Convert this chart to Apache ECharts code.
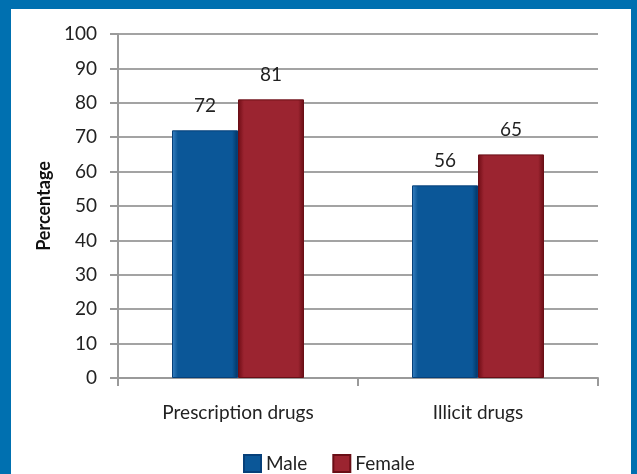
<!DOCTYPE html>
<html>
<head>
<meta charset="utf-8">
<script src="https://cdn.jsdelivr.net/npm/echarts@6/dist/echarts.min.js"></script>
<style>
  html, body { margin: 0; padding: 0; }
  #frame { position: relative; width: 637px; height: 474px; background: #0070b0; overflow: hidden; }
  #chart { position: absolute; left: 11px; top: 9px; width: 620px; height: 465px; background: #ffffff; }
</style>
</head>
<body>
<div id="frame"><div id="chart"></div></div>
<script>
const categories = ['Prescription drugs', 'Illicit drugs'];
const maleValues = [72, 56];
const femaleValues = [81, 65];
const yTicks = { min: 0, max: 100, interval: 10 };

const FONT = 'Lato, "Open Sans", sans-serif';

// horizontal gradient giving the bars a bevelled look
function bevel(light, mid, dark) {
  return new echarts.graphic.LinearGradient(0, 0, 1, 0, [
    { offset: 0, color: light },
    { offset: 0.09, color: mid },
    { offset: 0.91, color: mid },
    { offset: 1, color: dark }
  ]);
}

const chart = echarts.init(document.getElementById('chart'), null, { renderer: 'canvas' });

const labelStyle = {
  show: true,
  position: 'top',
  distance: 15,
  color: '#222',
  fontSize: 19,
  fontFamily: FONT
};

chart.setOption({
  animation: false,
  grid: { left: 107, right: 33, top: 25, bottom: 96 },
  legend: {
    left: 227,
    top: 440,
    itemWidth: 17,
    itemHeight: 17,
    itemGap: 25,
    icon: 'rect',
    textStyle: { color: '#222', fontSize: 19, fontFamily: FONT },
    data: ['Male', 'Female']
  },
  xAxis: {
    type: 'category',
    data: categories,
    axisLine: { lineStyle: { color: '#9a9a9a', width: 2 } },
    axisTick: { show: true, length: 8, lineStyle: { color: '#9a9a9a', width: 2 } },
    axisLabel: { color: '#222', fontSize: 19, fontFamily: FONT, margin: 25 }
  },
  yAxis: {
    type: 'value',
    min: yTicks.min,
    max: yTicks.max,
    interval: yTicks.interval,
    name: 'Percentage',
    nameLocation: 'middle',
    nameGap: 64,
    nameTextStyle: { color: '#111', fontSize: 18, fontWeight: 'bold', fontFamily: FONT },
    axisLine: { show: true, lineStyle: { color: '#9a9a9a', width: 2 } },
    axisTick: { show: true, length: 8, lineStyle: { color: '#9a9a9a', width: 2 } },
    axisLabel: { color: '#222', fontSize: 19, fontFamily: FONT, margin: 21 },
    splitLine: { lineStyle: { color: '#a3a3a3', width: 2 } }
  },
  series: [
    {
      name: 'Male',
      type: 'bar',
      data: maleValues,
      barGap: '0%',
      barCategoryGap: '45%',
      itemStyle: {
        color: bevel('#3a82c2', '#0b5798', '#043563'),
        borderColor: '#06407a',
        borderWidth: 1
      },
      label: labelStyle
    },
    {
      name: 'Female',
      type: 'bar',
      data: femaleValues,
      barGap: '0%',
      barCategoryGap: '45%',
      itemStyle: {
        color: bevel('#6e0c14', '#9b2430', '#680d14'),
        borderColor: '#6a0e16',
        borderWidth: 1
      },
      label: labelStyle
    }
  ]
});
</script>
</body>
</html>
